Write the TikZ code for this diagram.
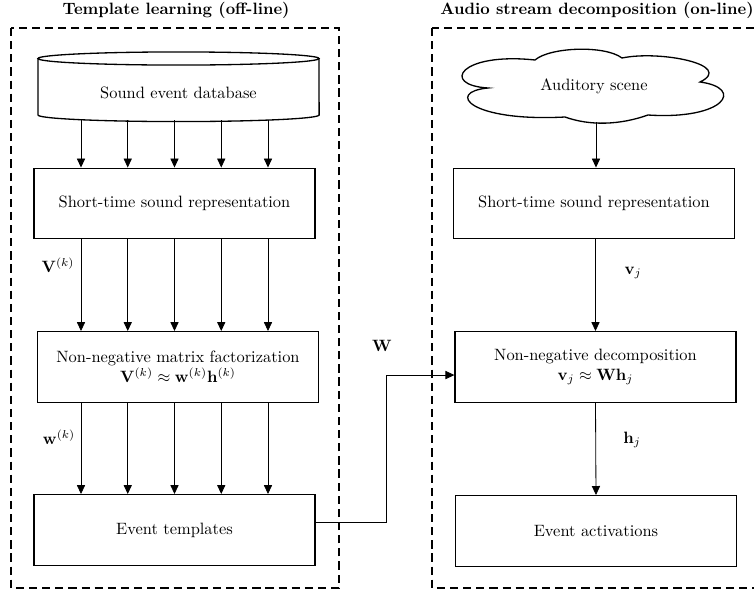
\documentclass[tikz,border=0pt]{standalone}
\usepackage{amsmath}
\usetikzlibrary{positioning}
\usetikzlibrary{arrows.meta}

\begin{document}
\begin{tikzpicture}[x=0.609pt,y=-0.609pt,
 box/.style={draw,thick,rectangle,align=center,minimum width=171pt,minimum height=43pt,inner sep=0pt},
 arr/.style={-{Triangle[length=5.5pt,width=5pt]},line width=0.5pt},
 frame/.style={thick,dash pattern=on 5pt off 3pt},
 title/.style={font=\bfseries}]
 \useasboundingbox (0,0) rectangle (754,592);
 \node[title] (t1) at (176,10) {Template learning (off-line)};
 \node[title] (t2) at (597,10) {Audio stream decomposition (on-line)};
 \draw[frame] (11,28) rectangle (339,588);
 \draw[frame] (432,28) rectangle (762,588);

 \node (db) at (178.5,93) {Sound event database};
 \draw[thick] (38,58.5) -- (38,115) arc[start angle=180,end angle=360,x radius=85.6pt,y radius=4pt] -- (319,58.5);
 \draw[thick] (178.5,58.5) ellipse [x radius=85.6pt,y radius=4pt];
 \coordinate (dbbase) at (178.5,120);

 \node[box] (st) at (174.5,203.5) {Short-time sound representation};
 \node[box] (nmf) at (178,367) {Non-negative matrix factorization\\ $\mathbf{V}^{(k)} \approx \mathbf{w}^{(k)}\mathbf{h}^{(k)}$};
 \node[box] (evt) at (174.5,530) {Event templates};
 \foreach \i in {1,...,5}{
  \coordinate (c\i) at ([xshift=(\i-3)*28.47pt]st.north);
  \draw[arr] (c\i |- dbbase) -- (c\i);
  \draw[arr] (c\i |- st.south) -- (c\i |- nmf.north);
  \draw[arr] (c\i |- nmf.south) -- (c\i |- evt.north);
 }
 \node (lV) at (58,265) {$\mathbf{V}^{(k)}$};
 \node (lw) at (59,437) {$\mathbf{w}^{(k)}$};

 \node (scene) at (594,86) {Auditory scene};
 \draw[thick] (488,88) .. controls (440,85) and (460,52) .. (535,60)
  .. controls (550,47) and (605,45) .. (622,58)
  .. controls (660,50) and (735,65) .. (700,82)
  .. controls (745,88) and (725,120) .. (648,115)
  .. controls (620,125) and (590,126) .. (565,117)
  .. controls (470,122) and (445,92) .. cycle;
 \coordinate (scenebase) at (596,122);

 \node[box] (st2) at (594,203.5) {Short-time sound representation};
 \node[box] (dec) at (595.5,367) {Non-negative decomposition\\ $\mathbf{v}_j \approx \mathbf{W}\mathbf{h}_j$};
 \node[box] (act) at (596,531) {Event activations};
 \draw[arr] (scenebase) -- (st2.north -| scenebase);
 \draw[arr] (st2.south -| dec) -- (dec.north);
 \draw[arr] (dec.south) -- (act.north);
 \node (lv) at (633,273) {$\mathbf{v}_j$};
 \node (lh) at (632,440) {$\mathbf{h}_j$};

 \coordinate (wb) at (386,522);
 \draw[arr] (evt.east |- wb) -- (wb) |- ([yshift=-4.9pt]dec.west);
 \node (lW) at (382,346) {$\mathbf{W}$};
\end{tikzpicture}
\end{document}
